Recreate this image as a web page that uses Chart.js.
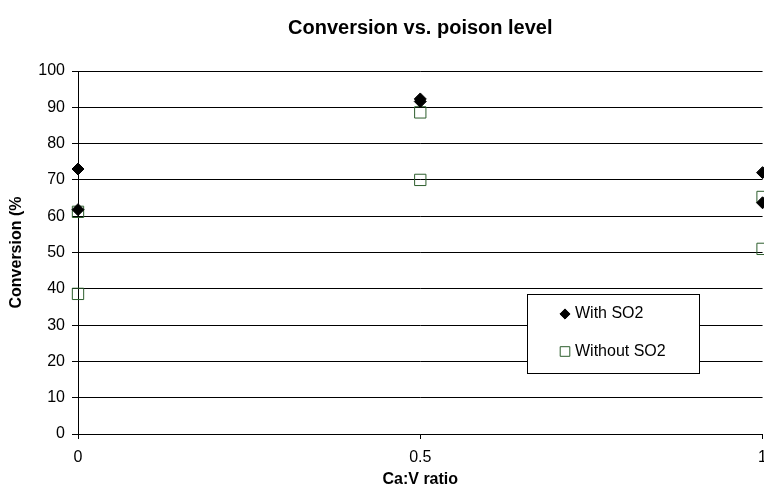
<!DOCTYPE html>
<html>
<head>
<meta charset="utf-8">
<title>Conversion vs. poison level</title>
<script src="https://cdn.jsdelivr.net/npm/chart.js@4.4.1/dist/chart.umd.min.js"></script>
<style>
  html, body { margin: 0; padding: 0; background: #fff; overflow: hidden; }
  /* a bit wider than the window so the right edge gets cut like the original */
  #wrap { width: 776px; height: 490px; }
</style>
</head>
<body>
<div id="wrap"><canvas id="chart"></canvas></div>
<script>
// Data
const withSO2X = [0, 0, 0.5, 0.5, 1, 1];
const withSO2Y = [73, 61.8, 92.3, 91.6, 72, 63.7];
const withoutSO2X = [0, 0, 0.5, 0.5, 1, 1];
const withoutSO2Y = [61.2, 38.6, 88.6, 70, 65.3, 51];
const xTicks = [0, 0.5, 1];
const yTicks = [0, 10, 20, 30, 40, 50, 60, 70, 80, 90, 100];

const FONT = "'Liberation Sans', Arial, sans-serif";

// Legend box drawn inside the plot, like the spreadsheet one
const boxLegend = {
  id: 'boxLegend',
  afterDatasetsDraw(chart, args, opts) {
    const ctx = chart.ctx;
    ctx.save();
    ctx.fillStyle = '#fff';
    ctx.fillRect(opts.left, opts.top, opts.width, opts.height);
    ctx.strokeStyle = '#000';
    ctx.lineWidth = 1;
    ctx.strokeRect(opts.left + 0.5, opts.top + 0.5, opts.width, opts.height);
    ctx.font = opts.font;
    ctx.textBaseline = 'middle';
    chart.data.datasets.forEach((ds, i) => {
      const y = opts.top + opts.rowY[i];
      ctx.fillStyle = ds.backgroundColor;
      ctx.strokeStyle = ds.borderColor;
      ctx.lineWidth = ds.borderWidth;
      Chart.helpers.drawPoint(ctx, {
        pointStyle: ds.pointStyle,
        radius: ds.pointRadius * opts.markerScale,
        borderWidth: ds.borderWidth,
        rotation: 0
      }, opts.left + opts.markerX, y);
      ctx.fillStyle = '#000';
      ctx.fillText(ds.label, opts.left + opts.textX, y);
    });
    ctx.restore();
  }
};

new Chart(document.getElementById('chart'), {
  type: 'scatter',
  data: {
    datasets: [{
      label: 'With SO2',
      data: withSO2X.map((x, i) => ({ x, y: withSO2Y[i] })),
      pointStyle: 'rectRot',
      pointRadius: 6,
      backgroundColor: '#000',
      borderColor: '#000',
      borderWidth: 1,
      clip: false
    }, {
      label: 'Without SO2',
      data: withoutSO2X.map((x, i) => ({ x, y: withoutSO2Y[i] })),
      pointStyle: 'rect',
      pointRadius: 8,
      backgroundColor: 'rgba(0,0,0,0)',
      borderColor: '#2d5e2d',
      borderWidth: 1,
      clip: false
    }]
  },
  options: {
    responsive: true,
    maintainAspectRatio: false,
    animation: false,
    layout: { padding: { left: 0, right: 0, top: 0, bottom: 0 } },
    plugins: {
      legend: { display: false },
      tooltip: { enabled: false },
      title: {
        display: true,
        fullSize: false,
        text: 'Conversion vs. poison level',
        color: '#000',
        font: { family: FONT, size: 20, weight: 'bold' },
        padding: { top: 16, bottom: 31 }
      },
      boxLegend: {
        left: 527, top: 294, width: 172, height: 79,
        markerX: 38, textX: 48, rowY: [20, 57.5],
        markerScale: 0.85,
        font: '16px ' + FONT
      }
    },
    scales: {
      x: {
        type: 'linear',
        min: 0,
        max: 1,
        afterBuildTicks: s => { s.ticks = xTicks.map(v => ({ value: v })); },
        afterFit: s => { s.height = 56; },
        border: { color: '#000', width: 1 },
        grid: { drawOnChartArea: false, drawTicks: true, tickLength: 5, color: '#000' },
        ticks: { color: '#000', padding: 9, font: { family: FONT, size: 16 }, callback: v => String(v) },
        title: {
          display: true,
          text: 'Ca:V ratio',
          color: '#000',
          font: { family: FONT, size: 16, weight: 'bold' },
          padding: { top: 2, bottom: 1 }
        }
      },
      y: {
        min: 0,
        max: 100,
        afterBuildTicks: s => { s.ticks = yTicks.map(v => ({ value: v })); },
        afterFit: s => { s.width = 78; },
        border: { color: '#000', width: 1 },
        grid: { color: '#000', lineWidth: 1, tickLength: 6 },
        ticks: { color: '#000', padding: 7, font: { family: FONT, size: 16 } },
        title: {
          display: true,
          text: 'Conversion (%',
          color: '#000',
          font: { family: FONT, size: 16, weight: 'bold' },
          padding: { top: 7, bottom: 0 }
        }
      }
    }
  },
  plugins: [boxLegend]
});
</script>
</body>
</html>
